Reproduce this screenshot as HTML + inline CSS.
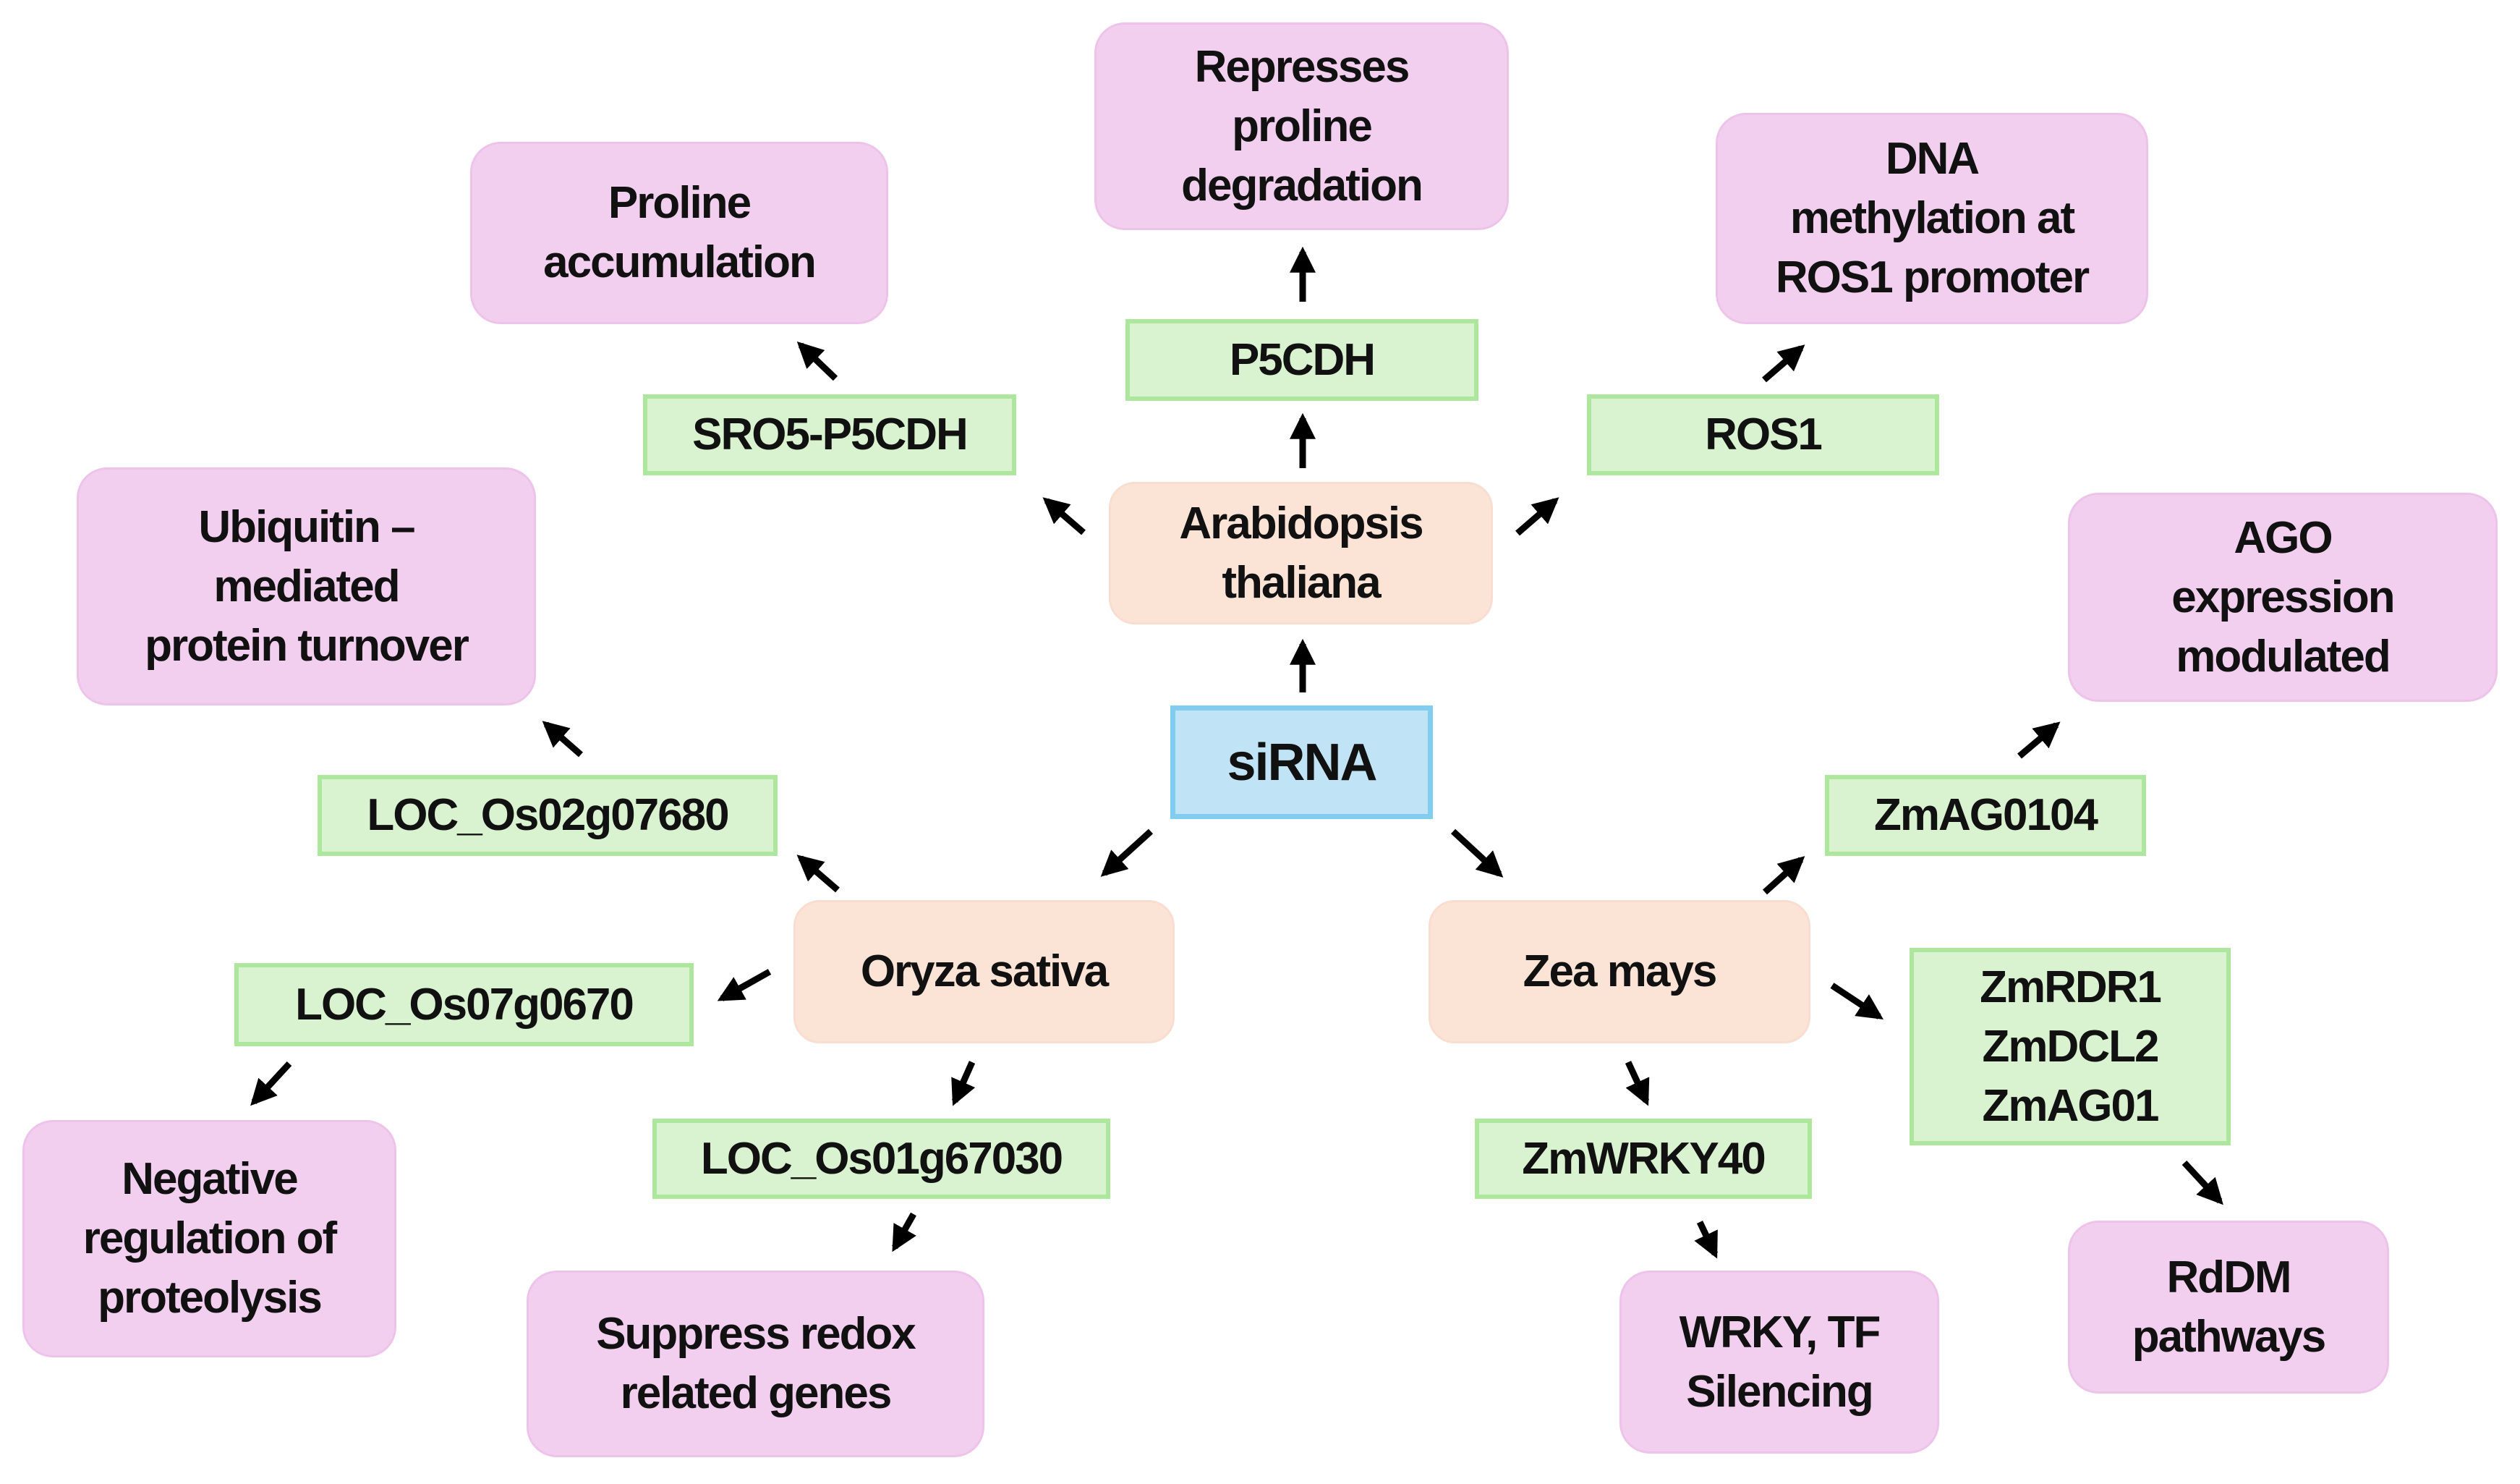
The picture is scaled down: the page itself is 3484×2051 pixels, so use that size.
<!DOCTYPE html>
<html><head><meta charset="utf-8"><style>
html,body{margin:0;padding:0;background:#fff}
#c{position:relative;width:3484px;height:2051px;overflow:hidden;font-family:"Liberation Sans",sans-serif;font-weight:bold;color:#111}
.b{position:absolute;display:flex;align-items:center;justify-content:center;text-align:center;box-sizing:border-box;font-size:62px;line-height:82px;letter-spacing:-2px}
.p{background:#f2cfee;border:3px solid #eec3ea;border-radius:42px}
.g{background:#d9f2d0;border:6px solid #ade79e}
.o{background:#fbe3d6;border:3px solid #f8ddd0;border-radius:36px}
.s{background:#c0e4f5;border:7px solid #80cdf0;font-size:72px}
svg{position:absolute;left:0;top:0}
</style></head><body><div id="c">
<div class="b p" style="left:1513px;top:31px;width:573px;height:287px">Represses<br>proline<br>degradation</div>
<div class="b p" style="left:650px;top:196px;width:578px;height:252px">Proline<br>accumulation</div>
<div class="b p" style="left:2372px;top:156px;width:598px;height:292px">DNA<br>methylation at<br>ROS1 promoter</div>
<div class="b p" style="left:106px;top:646px;width:635px;height:329px">Ubiquitin –<br>mediated<br>protein turnover</div>
<div class="b p" style="left:2859px;top:681px;width:594px;height:289px">AGO<br>expression<br>modulated</div>
<div class="b p" style="left:31px;top:1548px;width:517px;height:328px">Negative<br>regulation of<br>proteolysis</div>
<div class="b p" style="left:728px;top:1756px;width:633px;height:258px">Suppress redox<br>related genes</div>
<div class="b p" style="left:2239px;top:1756px;width:442px;height:253px">WRKY, TF<br>Silencing</div>
<div class="b p" style="left:2859px;top:1687px;width:444px;height:239px">RdDM<br>pathways</div>

<div class="b g" style="left:1556px;top:441px;width:488px;height:113px">P5CDH</div>
<div class="b g" style="left:889px;top:545px;width:516px;height:112px">SRO5-P5CDH</div>
<div class="b g" style="left:2194px;top:545px;width:487px;height:112px">ROS1</div>
<div class="b g" style="left:439px;top:1071px;width:636px;height:112px">LOC_Os02g07680</div>
<div class="b g" style="left:2523px;top:1071px;width:444px;height:112px">ZmAG0104</div>
<div class="b g" style="left:324px;top:1331px;width:635px;height:115px">LOC_Os07g0670</div>
<div class="b g" style="left:902px;top:1546px;width:633px;height:111px">LOC_Os01g67030</div>
<div class="b g" style="left:2039px;top:1546px;width:466px;height:111px">ZmWRKY40</div>
<div class="b g" style="left:2640px;top:1310px;width:444px;height:273px">ZmRDR1<br>ZmDCL2<br>ZmAG01</div>

<div class="b o" style="left:1533px;top:666px;width:531px;height:197px">Arabidopsis<br>thaliana</div>
<div class="b o" style="left:1097px;top:1244px;width:527px;height:198px">Oryza sativa</div>
<div class="b o" style="left:1975px;top:1244px;width:528px;height:198px">Zea mays</div>
<div class="b s" style="left:1618px;top:975px;width:363px;height:157px">siRNA</div>

<svg width="3484" height="2051" viewBox="0 0 3484 2051">
<defs><marker id="a" markerWidth="4" markerHeight="4" refX="3.2" refY="2" orient="auto" markerUnits="strokeWidth"><path d="M0,0 L4,2 L0,4 z" fill="#000"/></marker></defs>
<g stroke="#000" stroke-width="9" marker-end="url(#a)" fill="none">
<line x1="1801" y1="957" x2="1801" y2="890"/>
<line x1="1801" y1="647" x2="1801" y2="578"/>
<line x1="1801" y1="417" x2="1801" y2="348"/>
<line x1="1498" y1="736" x2="1447" y2="692"/>
<line x1="1155" y1="523" x2="1107" y2="477"/>
<line x1="2098" y1="737" x2="2150" y2="692"/>
<line x1="2439" y1="525" x2="2490" y2="481"/>
<line x1="1591" y1="1149" x2="1527" y2="1207"/>
<line x1="1158" y1="1230" x2="1107" y2="1186"/>
<line x1="803" y1="1043" x2="755" y2="1001"/>
<line x1="1064" y1="1343" x2="998" y2="1380"/>
<line x1="400" y1="1470" x2="351" y2="1523"/>
<line x1="1344" y1="1468" x2="1320" y2="1522"/>
<line x1="1263" y1="1678" x2="1237" y2="1724"/>
<line x1="2009" y1="1149" x2="2073" y2="1208"/>
<line x1="2440" y1="1233" x2="2490" y2="1188"/>
<line x1="2792" y1="1045" x2="2843" y2="1002"/>
<line x1="2533" y1="1362" x2="2598" y2="1405"/>
<line x1="2251" y1="1468" x2="2276" y2="1522"/>
<line x1="2350" y1="1689" x2="2371" y2="1733"/>
<line x1="3020" y1="1607" x2="3069" y2="1660"/>
</g></svg>
</div></body></html>
